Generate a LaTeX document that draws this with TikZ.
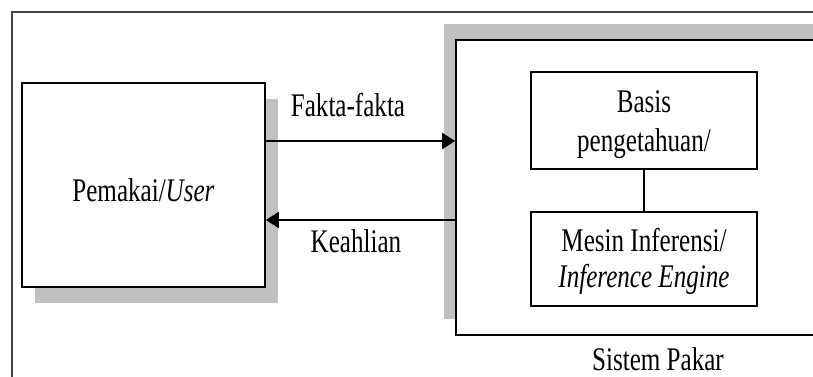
\documentclass[tikz,border=0pt]{standalone}
\usepackage{fontspec}
\setmainfont{Liberation Serif}[FakeStretch=0.76]
\usetikzlibrary{arrows.meta,shadows}
\definecolor{shadegray}{RGB}{192,192,192}
\definecolor{framegray}{RGB}{70,70,70}
\newcommand{\lift}[1]{\rule{0pt}{#1}}
\tikzset{
  box/.style={draw, line width=1.8pt, fill=white, align=center, inner sep=0pt},
  arr/.style={line width=2.4pt, -{Triangle[length=13pt,width=16pt]}},
  txt/.style={font=\fontsize{33}{38}\selectfont}
}
\begin{document}
\begin{tikzpicture}[x=1pt, y=-1pt, txt]
\useasboundingbox (0,0) rectangle (813,377);
\clip (0,0) rectangle (813,377);
% frame of the page
\draw [framegray, line width=1.3pt] (12,377) -- (12,12) -- (813,12);

\node [box, minimum width=243pt, minimum height=204pt, text height=33pt,
  general shadow={fill=shadegray, shadow xshift=13pt, shadow yshift=-16pt}]
  (user) at (143.5,185) {Pemakai/\textit{User}};

\node [box, minimum width=374pt, minimum height=295pt,
  general shadow={fill=shadegray, shadow xshift=-12pt, shadow yshift=16pt}]
  (pakar) at (643,187.5) {};

\node [box, minimum width=226pt, minimum height=97pt,
  font=\fontsize{33}{39}\selectfont] (basis) at (644,120.5)
  {\lift{31pt}Basis\\pengetahuan/};
\node [box, minimum width=226pt, minimum height=94pt,
  font=\fontsize{33}{36}\selectfont] (mesin) at (644,259)
  {\lift{29pt}Mesin Inferensi/\\\textit{Inference Engine}};
\draw [line width=1.4pt] (basis) -- (mesin);

\draw [arr] (user.east |- 0,141) -- (pakar.west |- 0,141);
\draw [arr] (pakar.west |- 0,220) -- (user.east |- 0,220);

\node (fakta) at (348,105.5) {Fakta-fakta};
\node (keahlian) at (356,241) {Keahlian};
\node (sistem) at (658,359) {Sistem Pakar};
\end{tikzpicture}
\end{document}
